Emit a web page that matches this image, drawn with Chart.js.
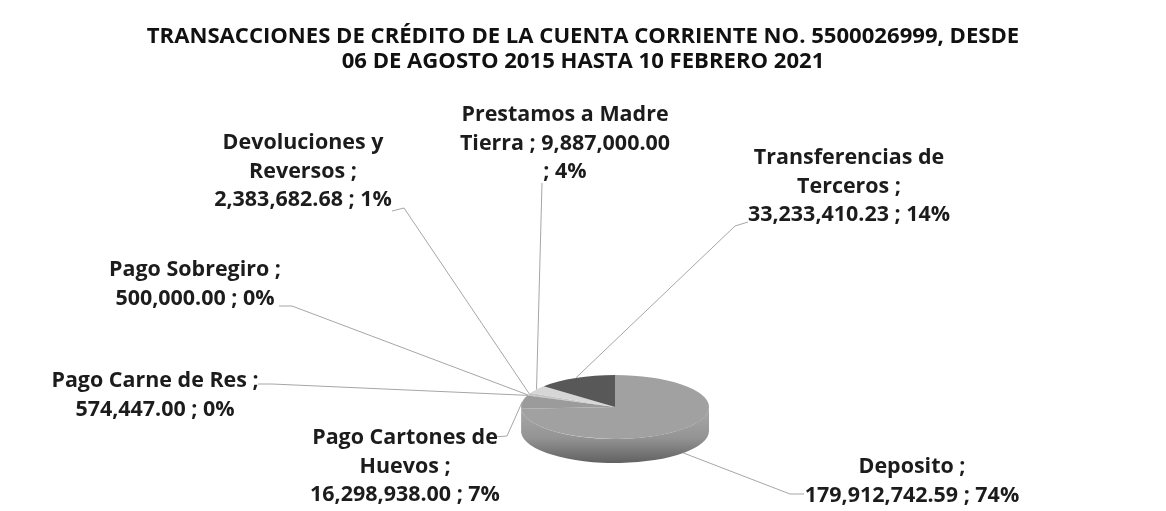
<!DOCTYPE html>
<html><head><meta charset="utf-8">
<script src="https://cdn.jsdelivr.net/npm/chart.js@4.4.1/dist/chart.umd.min.js"></script>
<style>html,body{margin:0;padding:0;background:#fff;}#wrap{width:1166px;height:511px;position:relative;}</style>
</head><body><div id="wrap"><canvas id="c" width="1166" height="511"></canvas></div>
<script>
// ---- data ----
const categories = ["Deposito","Pago Cartones de Huevos","Pago Carne de Res","Pago Sobregiro","Devoluciones y Reversos","Prestamos a Madre Tierra","Transferencias de Terceros"];
const amounts = [179912742.59, 16298938.00, 574447.00, 500000.00, 2383682.68, 9887000.00, 33233410.23];
const titleLines = ["TRANSACCIONES DE CRÉDITO DE LA CUENTA CORRIENTE NO. 5500026999, DESDE", "06 DE AGOSTO 2015 HASTA 10 FEBRERO 2021"];

// ---- styling / layout ----
const sliceColors = ["#a1a1a1","#9b9b9b","#8e8e8e","#b2b2b2","#c2c2c2","#d6d6d6","#585858"];
const labelWordsPerLine = [[2,3],[3,2,3],[5,3],[3,3],[2,2,3],[3,3,2],[2,2,3]];
const labelCenters = [[912,467],[405,438],[155,381],[195,270],[303,143],[565,115],[849,158]];
const leaderPoints = [
  [[804,494],[790,494]],
  [[494,437],[507,436]],
  [[258,384],[272,384]],
  [[279,306],[292,306]],
  [[392,211],[404,208]],
  [[542,183]],
  [[748,222],[735,226]]
];
const FAMILY = "'Open Sans', 'DejaVu Sans', sans-serif";
const TITLE_FAMILY = "'Liberation Sans Narrow', 'Open Sans', sans-serif";
const PIE_CX = 615, PIE_CY = 407, PIE_R = 94, TILT = 0.34, DEPTH = 24, LINE_GAP = 28.5;

const mctx = document.createElement('canvas').getContext('2d');
function fitSize(text, target, fam){ mctx.font = "bold 100px " + fam; return 100 * target / mctx.measureText(text).width; }
const titleSize = fitSize(titleLines[0], 873, TITLE_FAMILY);
const labelSize = fitSize("16,298,938.00 ; 7%", 190, FAMILY);

const total = amounts.reduce((a,b)=>a+b,0);
function fmt(v){ return v.toLocaleString('en-US',{minimumFractionDigits:2, maximumFractionDigits:2}); }
function labelLines(i){
  const words = (categories[i] + " ; " + fmt(amounts[i]) + " ; " + Math.round(amounts[i]/total*100) + "%").split(" ");
  const out = []; let p = 0;
  for (const n of labelWordsPerLine[i]) { out.push(words.slice(p, p+n).join(" ")); p += n; }
  return out;
}
function shade(hex, f){
  const n = parseInt(hex.slice(1),16);
  const r = Math.round(((n>>16)&255)*f), g = Math.round(((n>>8)&255)*f), b = Math.round((n&255)*f);
  return "rgb(" + Math.min(255,r) + "," + Math.min(255,g) + "," + Math.min(255,b) + ")";
}

const tiltPlugin = {
  id: 'tilt',
  beforeDatasetsDraw(chart){
    const ctx = chart.ctx, meta = chart.getDatasetMeta(0);
    const a0 = meta.data[0]; const R = a0.outerRadius;
    ctx.save();
    meta.data.forEach((arc, i) => {
      const s = arc.startAngle, e = arc.endAngle;
      for (let k = -1; k <= 2; k++) {
        const a = Math.max(s, 2*Math.PI*k), b = Math.min(e, 2*Math.PI*k + Math.PI);
        if (b > a) {
          const g = ctx.createLinearGradient(0, PIE_CY, 0, PIE_CY + R*TILT + DEPTH);
          g.addColorStop(0, shade(sliceColors[i], 1.05));
          g.addColorStop(0.55, shade(sliceColors[i], 0.92));
          g.addColorStop(1, shade(sliceColors[i], 0.6));
          ctx.beginPath();
          ctx.ellipse(PIE_CX, PIE_CY, R, R*TILT, 0, a, b, false);
          ctx.ellipse(PIE_CX, PIE_CY + DEPTH, R, R*TILT, 0, b, a, true);
          ctx.closePath();
          ctx.fillStyle = g; ctx.fill();
        }
      }
    });
    ctx.restore();
    ctx.save();
    ctx.translate(PIE_CX - a0.x, PIE_CY);
    ctx.scale(1, TILT);
    ctx.translate(0, -a0.y);
  },
  afterDatasetsDraw(chart){ chart.ctx.restore(); }
};

const labelPlugin = {
  id: 'pieLabels',
  afterDraw(chart){
    const ctx = chart.ctx, meta = chart.getDatasetMeta(0);
    ctx.save();
    ctx.strokeStyle = "#a6a6a6"; ctx.lineWidth = 1;
    meta.data.forEach((arc, i) => {
      const m = (arc.startAngle + arc.endAngle)/2, R = arc.outerRadius;
      let ax = PIE_CX + R*Math.cos(m), ay = PIE_CY + R*TILT*Math.sin(m);
      if (Math.sin(m) > 0.2) ay += DEPTH;
      const pts = leaderPoints[i];
      ctx.beginPath(); ctx.moveTo(pts[0][0], pts[0][1]);
      for (let j = 1; j < pts.length; j++) ctx.lineTo(pts[j][0], pts[j][1]);
      ctx.lineTo(ax, ay); ctx.stroke();
    });
    ctx.fillStyle = "#1c1c1c";
    ctx.font = "bold " + labelSize + "px " + FAMILY;
    ctx.textAlign = "center"; ctx.textBaseline = "middle";
    categories.forEach((c, i) => {
      labelLines(i).forEach((t, j) => ctx.fillText(t, labelCenters[i][0], labelCenters[i][1] + j*LINE_GAP));
    });
    ctx.restore();
  }
};

new Chart(document.getElementById('c'), {
  type: 'pie',
  data: { labels: categories, datasets: [{ data: amounts, backgroundColor: sliceColors, borderWidth: 0, radius: PIE_R, clip: false }] },
  options: {
    responsive: false, animation: false, events: [],
    layout: { padding: 0 },
    plugins: {
      legend: { display: false }, tooltip: { enabled: false },
      title: { display: true, text: titleLines, color: '#111', padding: { top: 24.5, bottom: 0 },
               font: { family: TITLE_FAMILY, size: titleSize, weight: 'bold', lineHeight: 25/titleSize } }
    }
  },
  plugins: [tiltPlugin, labelPlugin]
});
</script></body></html>
